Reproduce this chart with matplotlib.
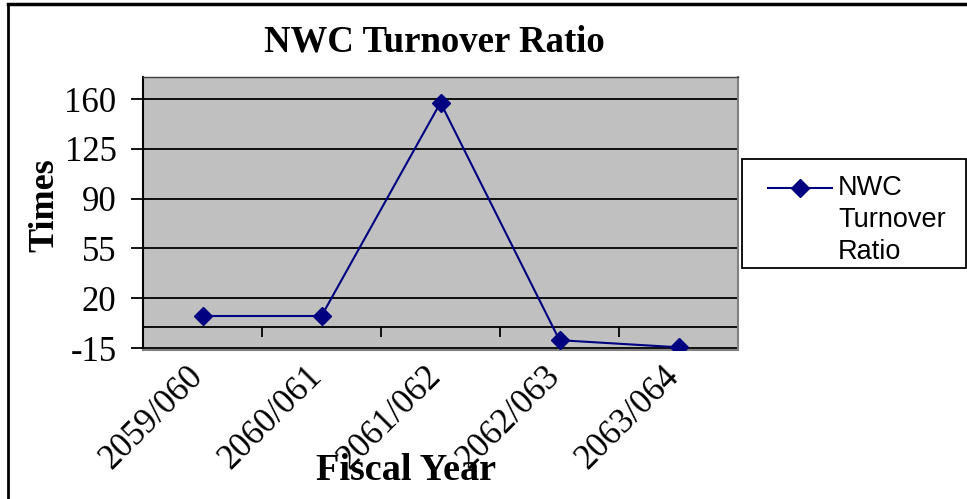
import matplotlib
matplotlib.use('Agg')
import matplotlib.pyplot as plt
import matplotlib.transforms as mtransforms
import numpy as np
from matplotlib.lines import Line2D
from matplotlib.patches import Rectangle

years = ['2059/060', '2060/061', '2061/062', '2062/063', '2063/064']
nwc_turnover = [7.5, 7.5, 157.5, -9.5, -14.5]
yticks = [-15, 20, 55, 90, 125, 160]

W, H = 967, 499
navy = '#000080'
serif = 'Liberation Serif'

fig = plt.figure(figsize=(W / 100, H / 100), dpi=100)
ax = fig.add_axes([143 / W, 1 - 350 / H, (738 - 143) / W, (350 - 77) / H])
ax.set_facecolor('#c0c0c0')

x = np.arange(len(years))
line, = ax.plot(x, nwc_turnover, color=navy, lw=1.5, marker='D', ms=9,
                mfc=navy, mec=navy, zorder=5)

ax.set_xlim(-0.5, len(years) - 0.5)
ax.set_ylim(-16.4, 175.5)
ax.set_yticks(yticks)
ax.set_yticklabels([str(v) for v in yticks], fontsize=25, family=serif)
ax.yaxis.grid(True, color='black', lw=1.3)
ax.set_axisbelow(True)
ax.tick_params(axis='y', direction='out', length=9, width=1.3, pad=10)

ax.set_xticks(x)
ax.set_xticklabels(years, fontsize=25, family=serif, rotation=45,
                   ha='right', va='top', rotation_mode='anchor')
ax.tick_params(axis='x', length=0, pad=7)
shift = mtransforms.ScaledTranslation(-16 / 100, 0, fig.dpi_scale_trans)
for lab in ax.get_xticklabels():
    lab.set_transform(lab.get_transform() + shift)

for s in ['bottom', 'right']:
    ax.spines[s].set_color('#808080')
    ax.spines[s].set_linewidth(1.5)
ax.spines['left'].set_color('black')
ax.spines['left'].set_linewidth(1.5)
ax.spines['top'].set_color('#404040')
ax.spines['top'].set_linewidth(1)

# category axis crossing at zero, ticks between categories
sec = ax.secondary_xaxis(0, transform=ax.transData)
sec.set_xticks(np.arange(len(years) + 1) - 0.5)
sec.set_xticklabels([])
sec.tick_params(direction='out', length=7, width=1.3)
sec.spines['bottom'].set_color('black')
sec.spines['bottom'].set_linewidth(1.3)

fig.text(434 / W, 1 - 42 / H, 'NWC Turnover Ratio', fontsize=26.5,
         fontweight='bold', family=serif, ha='center', va='center')
fig.text(45 / W, 1 - 205 / H, 'Times', fontsize=26, fontweight='bold',
         family=serif, rotation=90, ha='center', va='center')
fig.text(406 / W, 1 - 471 / H, 'Fiscal Year', fontsize=27.5,
         fontweight='bold', family=serif, ha='center', va='center')

# legend box
fig.add_artist(Rectangle((742 / W, 1 - 268 / H), (966 - 742) / W,
                         (268 - 159) / H, transform=fig.transFigure,
                         fill=False, ec='black', lw=1.3))
fig.add_artist(Line2D([768 / W, 832 / W], [1 - 188 / H, 1 - 188 / H],
                      transform=fig.transFigure, color=navy, lw=1.5))
fig.add_artist(Line2D([800 / W], [1 - 188 / H], transform=fig.transFigure,
                      color=navy, marker='D', ms=9, ls='none'))
fig.text(838 / W, 1 - 220 / H, 'NWC\nTurnover\nRatio', fontsize=19.5,
         family='Liberation Sans', ha='left', va='center', linespacing=1.3)

# outer chart border (left and top)
fig.add_artist(Line2D([8 / W, 8 / W], [0, 1 - 4 / H], transform=fig.transFigure,
                      color='black', lw=2))
fig.add_artist(Line2D([8 / W, 1], [1 - 4 / H, 1 - 4 / H],
                      transform=fig.transFigure, color='black', lw=2.5))

fig.savefig('out.png', dpi=100)
